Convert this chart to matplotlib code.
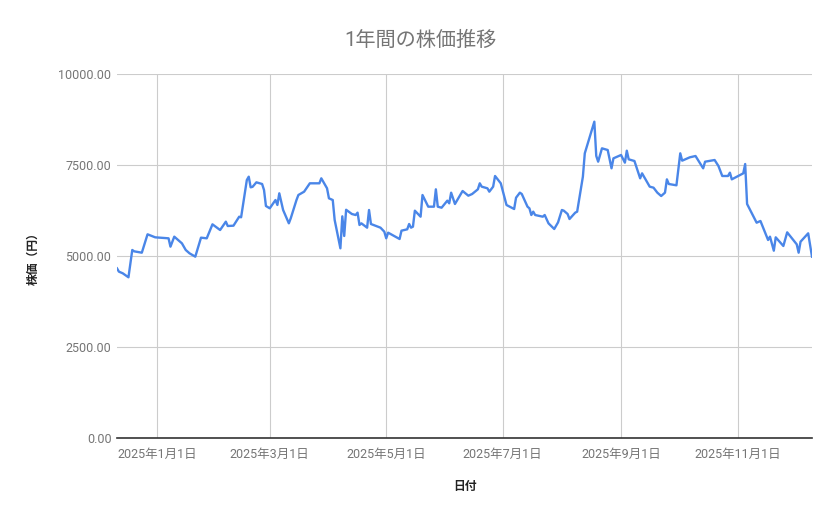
import matplotlib
matplotlib.use("Agg")
import matplotlib.pyplot as plt
import matplotlib.dates as mdates
import pandas as pd

plt.rcParams['font.family'] = ['Roboto', 'Noto Sans CJK JP', 'DejaVu Sans']

# days from 2025-01-01
day_offsets = [-21, -20, -18, -15, -13, -12, -8, -5, -1, 6, 7, 9, 13, 15, 17, 20,
               23, 26, 29, 33, 36, 37, 40, 43, 44, 47, 48, 49, 50, 52, 55, 56,
               57, 59, 62, 63, 64, 66, 69, 70, 73, 74, 77, 80, 85, 86, 89, 90,
               92, 93, 96, 97, 98, 99, 102, 104, 105, 106, 107, 110, 111, 112,
               117, 119, 120, 121, 127, 128, 131, 132, 133, 134, 135, 138, 139,
               142, 145, 146, 147, 149, 152, 153, 154, 156, 160, 163, 165, 168,
               169, 170, 173, 174, 176, 177, 180, 183, 187, 188, 190, 191, 194,
               195, 196, 197, 198, 202, 203, 205, 208, 210, 212, 213, 215, 216,
               219, 220, 223, 224, 229, 230, 231, 233, 236, 238, 239, 243, 245,
               246, 247, 250, 253, 254, 258, 260, 262, 264, 266, 267, 268, 272,
               274, 275, 279, 282, 286, 287, 292, 294, 296, 299, 300, 301, 307,
               308, 309, 314, 316, 320, 321, 323, 324, 328, 330, 335, 336, 337,
               341, 343]
prices = [4660, 4570, 4525, 4415, 5165, 5128, 5091, 5596, 5513, 5486, 5256, 5531,
          5348, 5165, 5073, 4982, 5504, 5486, 5870, 5714, 5943, 5824, 5833, 6080,
          6063, 7088, 7179, 6887, 6900, 7024, 6978, 6813, 6374, 6310, 6538, 6401,
          6722, 6264, 5898, 6036, 6538, 6676, 6767, 6997, 6997, 7134, 6860, 6585,
          6538, 5989, 5211, 6090, 5550, 6270, 6154, 6126, 6191, 5852, 5897, 5778,
          6264, 5879, 5778, 5668, 5486, 5641, 5467, 5696, 5733, 5879, 5778, 5806,
          6245, 6080, 6676, 6355, 6355, 6832, 6355, 6327, 6520, 6447, 6740, 6429,
          6786, 6657, 6703, 6832, 6997, 6905, 6860, 6767, 6905, 7198, 6997, 6401,
          6291, 6602, 6740, 6703, 6355, 6310, 6126, 6218, 6126, 6080, 6126, 5897,
          5742, 5925, 6264, 6245, 6154, 6016, 6191, 6218, 7179, 7821, 8690, 7750,
          7591, 7958, 7912, 7409, 7683, 7775, 7564, 7893, 7656, 7610, 7134, 7271,
          6905, 6877, 6740, 6648, 6740, 7106, 6978, 6942, 7821, 7619, 7711, 7747,
          7409, 7591, 7637, 7473, 7198, 7198, 7289, 7106, 7271, 7527, 6429, 5915,
          5962, 5440, 5531, 5146, 5513, 5275, 5650, 5321, 5091, 5393, 5623, 4982]

dates = pd.Timestamp("2025-01-01") + pd.to_timedelta(day_offsets, unit="D")

fig = plt.figure(figsize=(8.39, 5.19), dpi=100)
ax = fig.add_axes([117/839, 1 - 438/519, (812 - 117)/839, (438 - 74)/519])

ax.plot(dates, prices, color="#4a86e8", linewidth=1.7)

ax.set_ylim(0, 10000)
ax.set_yticks([0, 2500, 5000, 7500, 10000])
ax.set_yticklabels(["%.2f" % v for v in [0, 2500, 5000, 7500, 10000]])
ax.set_xlim(dates[0], dates[-1])
ax.xaxis.set_major_locator(mdates.MonthLocator(bymonth=[1, 3, 5, 7, 9, 11]))
ax.xaxis.set_major_formatter(mdates.DateFormatter("%Y年%-m月%-d日"))

ax.grid(True, color="#cccccc", linewidth=0.8)
ax.set_axisbelow(True)
for s in ["top", "right", "left"]:
    ax.spines[s].set_visible(False)
ax.spines["bottom"].set_color("#333333")
ax.spines["bottom"].set_linewidth(1.2)
ax.tick_params(length=0, labelsize=9, labelcolor="#757575")
ax.tick_params(axis="y", pad=4)
ax.tick_params(axis="x", pad=7)

fig.text(420/839, 1 - 40/519, "1年間の株価推移", ha="center", va="center",
         fontsize=14.5, color="#757575")
fig.text(33/839, 1 - 256/519, "株価（円）", ha="center", va="center",
         rotation=90, fontsize=8.5, color="#222222", fontweight="bold")
fig.text(465/839, 1 - 486/519, "日付", ha="center", va="center",
         fontsize=8.5, color="#222222", fontweight="bold")

fig.savefig("out.png", dpi=100)
